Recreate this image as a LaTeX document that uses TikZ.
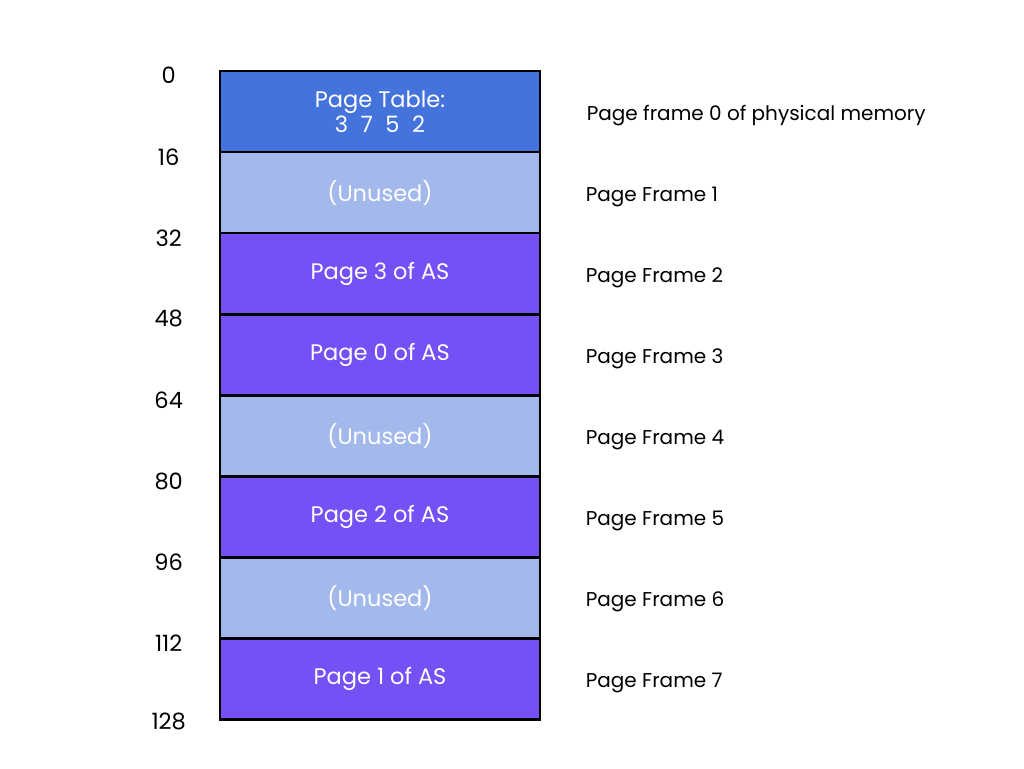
\documentclass[tikz,border=0pt]{standalone}
\usepackage{fontspec}
\setmainfont{Poppins}
\usepackage{xcolor}
\usetikzlibrary{positioning}

\definecolor{tablecol}{RGB}{69,115,220}
\definecolor{unusedcol}{RGB}{163,184,235}
\definecolor{pagecol}{RGB}{116,80,245}

\begin{document}
\begin{tikzpicture}[x=1pt, y=-1pt, node distance=81.1pt, on grid,
    frame/.style={draw=black, line width=2.6pt, minimum width=320pt, minimum height=81.1pt,
                  text=white, font=\fontsize{22.5}{28}\selectfont, align=center, inner sep=0pt},
    ptable/.style={frame, fill=tablecol},
    unused/.style={frame, fill=unusedcol},
    aspage/.style={frame, fill=pagecol},
    addr/.style={font=\fontsize{22.5}{27}\selectfont, anchor=center},
    pflabel/.style={font=\fontsize{20}{25}\selectfont, anchor=west}]

  \useasboundingbox (0,0) rectangle (1024,768);

  \node[ptable] (F0) at (380,111.5) {\raisebox{-2pt}{Page Table:}\\[-1pt] 3\;\;7\;\;5\;\;2};
  \node[unused] (F1) [below=of F0] {\raisebox{-2pt}{(Unused)}};
  \node[aspage] (F2) [below=of F1] {\raisebox{-2pt}{Page 3 of AS}};
  \node[aspage] (F3) [below=of F2] {\raisebox{-2pt}{Page 0 of AS}};
  \node[unused] (F4) [below=of F3] {\raisebox{-2pt}{(Unused)}};
  \node[aspage] (F5) [below=of F4] {\raisebox{-2pt}{Page 2 of AS}};
  \node[unused] (F6) [below=of F5] {\raisebox{-2pt}{(Unused)}};
  \node[aspage] (F7) [below=of F6] {\raisebox{-2pt}{Page 1 of AS}};

  % addresses at the frame boundaries
  \foreach \f/\a in {0/0, 1/16, 2/32, 3/48, 4/64, 5/80, 6/96, 7/112}
    \node[addr] (A\a) at ([xshift=-50pt, yshift=-6pt]F\f.north west) {\a};
  \node[addr] (A128) at ([xshift=-50pt, yshift=0pt]F7.south west) {128};

  % frame names
  \node[pflabel] (L0) at ([xshift=42pt, yshift=-4pt]F0.east) {Page frame 0 of physical memory};
  \foreach \f in {1,...,7}
    \node[pflabel] (L\f) at ([xshift=41pt, yshift=-4pt]F\f.east) {Page Frame \f};

\end{tikzpicture}
\end{document}
